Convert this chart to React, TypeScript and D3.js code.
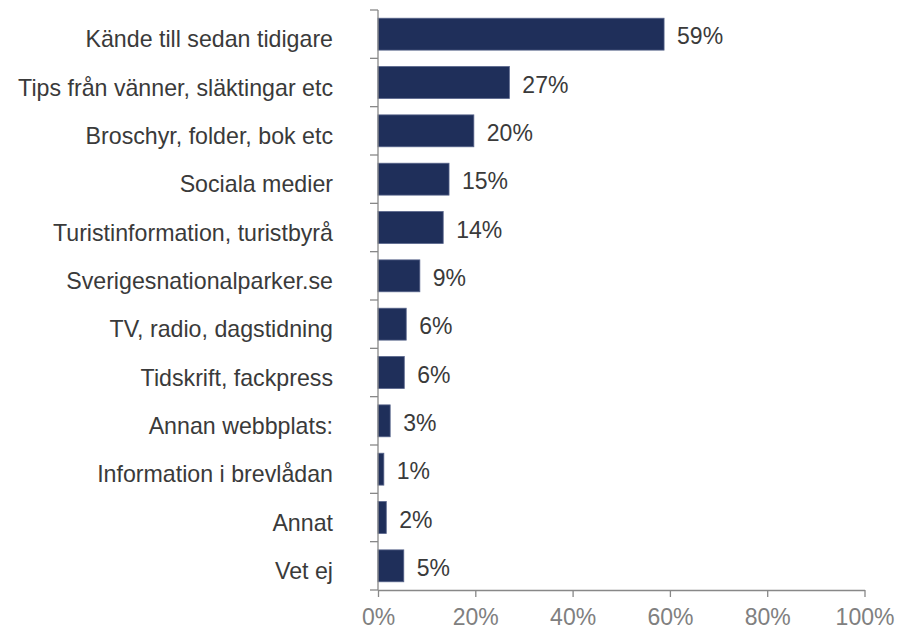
import React, { useEffect, useRef } from 'react';
import * as d3 from 'd3';

const categories = [
  'Kände till sedan tidigare',
  'Tips från vänner, släktingar etc',
  'Broschyr, folder, bok etc',
  'Sociala medier',
  'Turistinformation, turistbyrå',
  'Sverigesnationalparker.se',
  'TV, radio, dagstidning',
  'Tidskrift, fackpress',
  'Annan webbplats:',
  'Information i brevlådan',
  'Annat',
  'Vet ej',
];

// share of respondents (bar lengths)
const values = [58.8, 27.0, 19.7, 14.6, 13.4, 8.6, 5.8, 5.4, 2.5, 1.2, 1.7, 5.3];
const valueLabels = ['59%', '27%', '20%', '15%', '14%', '9%', '6%', '6%', '3%', '1%', '2%', '5%'];
const xTicks = [0, 20, 40, 60, 80, 100];

const App = () => {
  const ref = useRef<SVGSVGElement>(null);

  useEffect(() => {
    const svg = d3.select(ref.current);
    svg.selectAll('*').remove();

    const left = 378;
    const right = 864.5;
    const top = 10;
    const bottom = 590;
    const font = 'Arial, "Liberation Sans", sans-serif';
    const textColor = '#3a3a3a';

    const x = d3.scaleLinear().domain([0, 100]).range([left, right]);
    const y = d3
      .scaleBand<string>()
      .domain(categories)
      .range([top, bottom])
      .paddingInner(0.34)
      .paddingOuter(0.17);
    const step = (bottom - top) / categories.length;

    // Bars
    svg
      .append('g')
      .selectAll('rect')
      .data(values)
      .enter()
      .append('rect')
      .attr('x', x(0))
      .attr('y', (_, i) => y(categories[i])!)
      .attr('width', (d) => x(d) - x(0))
      .attr('height', y.bandwidth())
      .attr('fill', '#1f2f5a')
      .attr('stroke', '#56638a')
      .attr('stroke-width', 0.8);

    // Value labels
    svg
      .append('g')
      .selectAll('text')
      .data(values)
      .enter()
      .append('text')
      .attr('x', (d) => x(d) + 13)
      .attr('y', (_, i) => y(categories[i])! + y.bandwidth() / 2 + 2)
      .attr('dominant-baseline', 'central')
      .attr('font-family', font)
      .attr('font-size', 23)
      .attr('fill', textColor)
      .text((_, i) => valueLabels[i]);

    // Category labels
    svg
      .append('g')
      .selectAll('text')
      .data(categories)
      .enter()
      .append('text')
      .attr('x', 333)
      .attr('y', (d) => y(d)! + y.bandwidth() / 2 + 5)
      .attr('text-anchor', 'end')
      .attr('dominant-baseline', 'central')
      .attr('font-family', font)
      .attr('font-size', 23.2)
      .attr('fill', textColor)
      .text((d) => d);

    // Y axis line and ticks at band boundaries
    const axisColor = '#888';
    svg
      .append('line')
      .attr('x1', left)
      .attr('x2', left)
      .attr('y1', top)
      .attr('y2', bottom)
      .attr('stroke', axisColor)
      .attr('stroke-width', 1.3);
    svg
      .append('g')
      .selectAll('line')
      .data(d3.range(categories.length + 1))
      .enter()
      .append('line')
      .attr('x1', left - 8)
      .attr('x2', left)
      .attr('y1', (i) => top + i * step)
      .attr('y2', (i) => top + i * step)
      .attr('stroke', axisColor)
      .attr('stroke-width', 1.3);

    // X axis
    const xAxis = svg
      .append('g')
      .attr('transform', `translate(0,${bottom})`)
      .call(
        d3
          .axisBottom(x)
          .tickValues(xTicks)
          .tickSize(7)
          .tickSizeOuter(0)
          .tickPadding(12)
          .tickFormat((d) => `${d}%`)
      );
    xAxis.selectAll('path, line').attr('stroke', axisColor).attr('stroke-width', 1.3);
    xAxis
      .selectAll('text')
      .attr('font-family', font)
      .attr('font-size', 23)
      .attr('fill', '#808080');
  }, []);

  return (
    <svg
      ref={ref}
      width={914}
      height={629}
      style={{ position: 'absolute', left: 0, top: 0, background: '#fff' }}
    />
  );
};

export default App;
